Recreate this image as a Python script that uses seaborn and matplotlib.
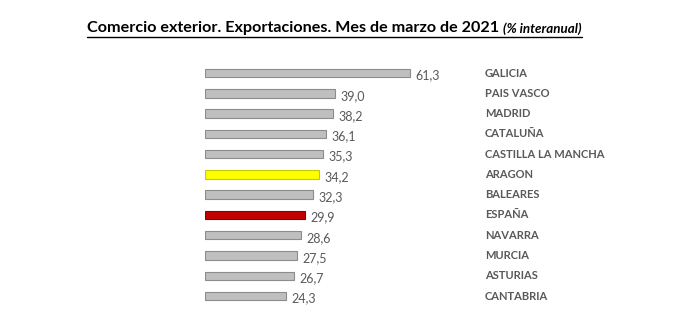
import matplotlib
matplotlib.use("Agg")
import matplotlib.pyplot as plt
import matplotlib.transforms as mtransforms
from matplotlib.lines import Line2D
import seaborn as sns
import pandas as pd

regions = ["GALICIA", "PAIS VASCO", "MADRID", "CATALUÑA", "CASTILLA LA MANCHA",
           "ARAGON", "BALEARES", "ESPAÑA", "NAVARRA", "MURCIA", "ASTURIAS", "CANTABRIA"]
values = [61.3, 39.0, 38.2, 36.1, 35.3, 34.2, 32.3, 29.9, 28.6, 27.5, 26.7, 24.3]
colors = ["#bfbfbf"] * 5 + ["#ffff00", "#bfbfbf", "#c00000"] + ["#bfbfbf"] * 4
edges = ["#8c8c8c"] * 5 + ["#c8c800", "#8c8c8c", "#8a0000"] + ["#8c8c8c"] * 4

sns.set_theme(style="white")
plt.rcParams["font.family"] = ["Lato", "DejaVu Sans"]

df = pd.DataFrame({"region": regions, "value": values})

W, H = 700, 310
fig = plt.figure(figsize=(7, 3.1), dpi=100)
fig.patch.set_facecolor("white")
top_px, bot_px = 62.9, 306.2
ax = fig.add_axes([205 / W, 1 - bot_px / H, 267.5 / W, (bot_px - top_px) / H])

sns.barplot(data=df, x="value", y="region", hue="region", palette=colors,
            legend=False, width=0.42, ax=ax, orient="h", saturation=1)
for p, ec in zip(ax.patches, edges):
    p.set_edgecolor(ec)
    p.set_linewidth(0.8)

ax.set_xlim(0, 80)
ax.set_ylim(11.5, -0.5)
ax.axis("off")

for i, v in enumerate(values):
    ax.text(v + 1.6, i + 0.12, f"{v:.1f}".replace(".", ","), va="center", ha="left",
            fontsize=9, color="#595959")

trans = mtransforms.blended_transform_factory(fig.transFigure, ax.transData)
for i, r in enumerate(regions):
    ax.text(485 / W, i, r, transform=trans, va="center", ha="left",
            fontsize=8, fontweight="bold", color="#595959")

t1 = fig.text(87 / W, 1 - 28 / H, "Comercio exterior. Exportaciones. Mes de marzo de 2021",
              fontsize=11.6, fontweight="bold", color="black", va="center", ha="left")
fig.canvas.draw()
r = fig.canvas.get_renderer()
bb1 = t1.get_window_extent(r)
t2 = fig.text((bb1.x1 + 4) / W, 1 - 29 / H, "(% interanual)", fontsize=9.6,
              fontweight="bold", style="italic", color="black", va="center", ha="left")
fig.canvas.draw()
bb2 = t2.get_window_extent(r)
yline = (H - 37) / H
fig.add_artist(Line2D([bb1.x0 / W, bb2.x1 / W], [yline, yline], transform=fig.transFigure,
                      color="black", linewidth=1.0))

fig.savefig("out.png", dpi=100, facecolor="white")
